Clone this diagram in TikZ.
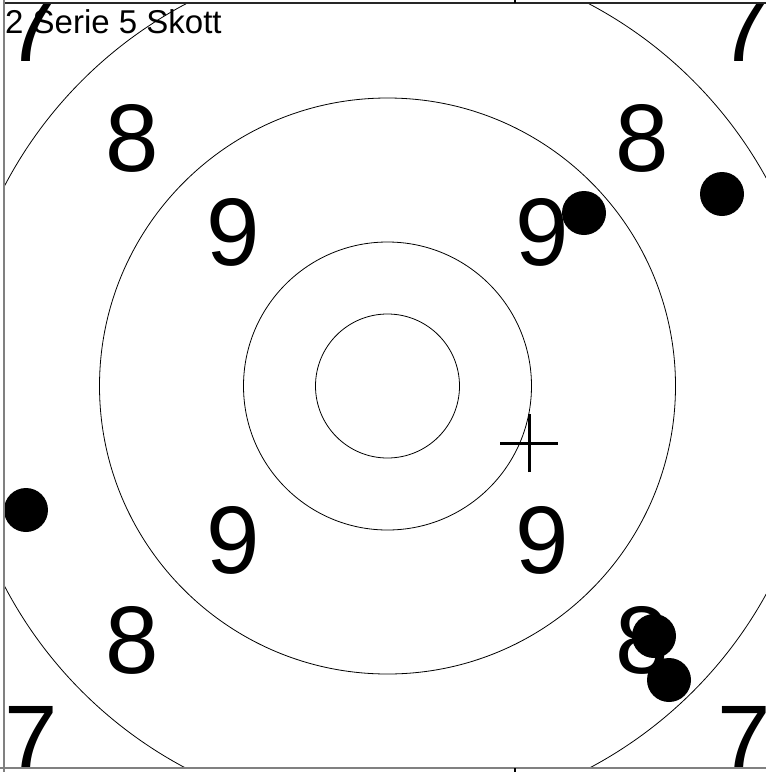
\documentclass[tikz,border=0pt]{standalone}
\usepackage{fontspec}
\setmainfont{Liberation Sans}
\begin{document}
\begin{tikzpicture}[x=1pt,y=-1pt,
  ring/.style={line width=0.8pt},
  bigdigit/.style={inner sep=0pt, font=\fontsize{96}{96}\selectfont},
  shot/.style={fill=black},
  crossline/.style={line width=3pt},
  topline/.style={line width=2pt, black!85},
  sideline/.style={line width=1.4pt, black!50},
  tick/.style={line width=1.4pt, black}]
\useasboundingbox (0,0) rectangle (766,772);
\coordinate (c) at (387.5,386);
\begin{scope}
  \clip (4,4) rectangle (766,768);
  \foreach \r in {72,144,288,432}
    \draw[ring] (c) circle[radius=\r pt];
  % ring numbers
  \node[bigdigit] (n9a) at (233,232.5) {9};
  \node[bigdigit] (n9b) at (542,232.5) {9};
  \node[bigdigit] (n9c) at (233,540.5) {9};
  \node[bigdigit] (n9d) at (542,540.5) {9};
  \node[bigdigit] (n8a) at (132,138.5) {8};
  \node[bigdigit] (n8b) at (642,138.5) {8};
  \node[bigdigit] (n8c) at (132,640) {8};
  \node[bigdigit] (n8d) at (642,640) {8};
  \node[bigdigit] (n7a) at (31,28) {7};
  \node[bigdigit] (n7b) at (744,28) {7};
  \node[bigdigit] (n7c) at (31,739.5) {7};
  \node[bigdigit] (n7d) at (744,739.5) {7};
  \node[anchor=base west, inner sep=0pt, font=\fontsize{33}{33}\selectfont] (title) at (5,33) {2 Serie 5 Skott};
  % shots
  \fill[shot] (584,213) circle[radius=22pt];
  \fill[shot] (722,194) circle[radius=22pt];
  \fill[shot] (26,510) circle[radius=22pt];
  \fill[shot] (654,636) circle[radius=22pt];
  \fill[shot] (669,680) circle[radius=22pt];
  % mean point cross
  \coordinate (m) at (529,443);
  \draw[crossline] ([xshift=-29pt]m) -- ([xshift=29pt]m);
  \draw[crossline] ([yshift=-29pt]m) -- ([yshift=29pt]m);
\end{scope}
% frame
\draw[topline] (4,3) -- (766,3);
\draw[sideline] (4,0) -- (4,772);
\draw[sideline] (0,768) -- (766,768);
\draw[tick] (515,0) -- (515,3);
\draw[tick] (515,768) -- (515,772);
\end{tikzpicture}
\end{document}
